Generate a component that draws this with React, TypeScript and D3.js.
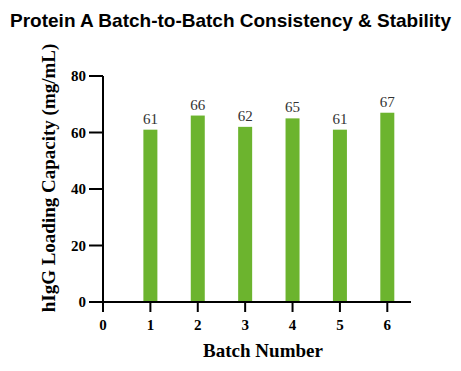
import * as d3 from "d3";

const batches = [1, 2, 3, 4, 5, 6];
const capacity = [61, 66, 62, 65, 61, 67];
const xTicks = [0, 1, 2, 3, 4, 5, 6];
const yTicks = [0, 20, 40, 60, 80];

const W = 461;
const H = 371;
const serif = "'Liberation Serif', 'Times New Roman', serif";

export default function App() {
  const x = d3.scaleLinear().domain([0, 6.5]).range([103, 411]);
  const y = d3.scaleLinear().domain([0, 80]).range([302, 76]);
  const barW = 14;

  return (
    <svg
      width={W}
      height={H}
      style={{ position: "absolute", left: 0, top: 0, background: "#fff" }}
    >
      <text
        x={W / 2}
        y={27}
        textAnchor="middle"
        fontFamily="'Liberation Sans', Arial, sans-serif"
        fontWeight="bold"
        fontSize={19}
        fill="#000"
      >
        Protein A Batch-to-Batch Consistency &amp; Stability
      </text>

      {batches.map((b, i) => (
        <g key={b}>
          <rect
            x={x(b) - barW / 2}
            y={y(capacity[i])}
            width={barW}
            height={y(0) - y(capacity[i])}
            fill="#6cb42e"
          />
          <text
            x={x(b)}
            y={y(capacity[i]) - 6}
            textAnchor="middle"
            fontFamily={serif}
            fontSize={15}
            fill="#333"
          >
            {capacity[i]}
          </text>
        </g>
      ))}

      {/* y axis */}
      <line x1={x(0)} x2={x(0)} y1={y(0) + 1} y2={y(80)} stroke="#000" strokeWidth={2} />
      {yTicks.map((t) => (
        <g key={t}>
          <line x1={x(0) - 14} x2={x(0)} y1={y(t)} y2={y(t)} stroke="#000" strokeWidth={2} />
          <text
            x={x(0) - 17}
            y={y(t)}
            dy="0.35em"
            textAnchor="end"
            fontFamily={serif}
            fontWeight="bold"
            fontSize={15}
          >
            {t}
          </text>
        </g>
      ))}

      {/* x axis */}
      <line x1={x(0) - 1} x2={x(6.5)} y1={y(0)} y2={y(0)} stroke="#000" strokeWidth={2} />
      {xTicks.map((t) => (
        <g key={t}>
          <line x1={x(t)} x2={x(t)} y1={y(0)} y2={y(0) + 10} stroke="#000" strokeWidth={2} />
          <text
            x={x(t)}
            y={y(0) + 28}
            textAnchor="middle"
            fontFamily={serif}
            fontWeight="bold"
            fontSize={15}
          >
            {t}
          </text>
        </g>
      ))}

      <text
        x={263}
        y={357}
        textAnchor="middle"
        fontFamily={serif}
        fontWeight="bold"
        fontSize={19}
      >
        Batch Number
      </text>
      <text
        transform={`translate(55,${178}) rotate(-90)`}
        textAnchor="middle"
        fontFamily={serif}
        fontWeight="bold"
        fontSize={19}
      >
        hIgG Loading Capacity (mg/mL)
      </text>
    </svg>
  );
}
